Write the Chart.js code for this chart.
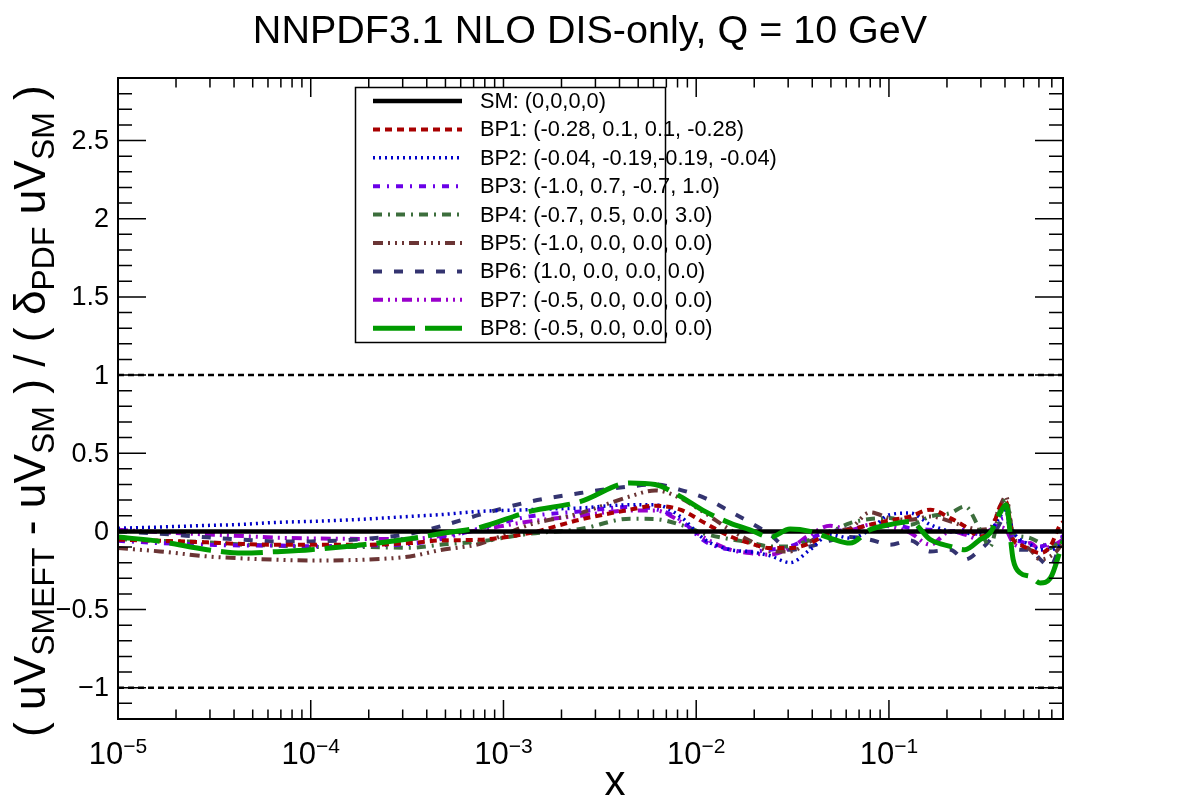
<!DOCTYPE html>
<html><head><meta charset="utf-8">
<script src="https://cdn.jsdelivr.net/npm/chart.js@4.4.1/dist/chart.umd.min.js"></script>
<style>html,body{margin:0;padding:0;background:#fff;}#wrap{width:1182px;height:800px;}</style>
</head><body><div id="wrap"><canvas id="c" width="1182" height="800"></canvas></div>
<script>
// ---------- data ----------
const titleText = "NNPDF3.1 NLO DIS-only, Q = 10 GeV";
const xMin = 1e-5, xMax = 0.8;
const yMin = -1.2, yMax = 2.9;
const xValues = [1.0e-5,1.65e-5,2.9e-5,4.45e-5,6.5e-5,1.0e-4,1.87e-4,3.27e-4,4.69e-4,7.56e-4,
  1.37e-3,2.5e-3,4.54e-3,6.12e-3,8.26e-3,1.11e-2,1.5e-2,1.9e-2,2.42e-2,3.07e-2,
  3.9e-2,4.95e-2,6.29e-2,7.98e-2,0.101,0.129,0.164,0.208,0.248,0.297,
  0.335,0.377,0.405,0.441,0.48,0.541,0.61,0.687,0.774,0.8];
const smX = [1e-5, 0.8];
const smValues = [0, 0];
const refX = [1e-5, 0.8];
const refUpper = [1, 1];
const refLower = [-1, -1];
const bp1 = [-0.053,-0.06,-0.07,-0.081,-0.085,-0.085,-0.085,-0.075,-0.058,-0.053,
  -0.01,0.075,0.139,0.164,0.139,0.053,-0.032,-0.075,-0.107,-0.107,
  -0.075,-0.01,0.01,0.043,0.07,0.096,0.139,0.085,0.032,-0.032,
  -0.01,0.16,0.19,-0.053,-0.085,-0.117,-0.139,-0.096,0.043,0.06];
const bp2 = [0.02,0.028,0.038,0.045,0.057,0.064,0.078,0.096,0.107,0.128,
  0.139,0.15,0.17,0.17,0.096,-0.053,-0.117,-0.13,-0.156,-0.2,
  -0.117,-0.02,-0.043,0.01,0.107,0.117,0.043,0,-0.01,-0.02,
  0,0.096,0.139,0,-0.053,-0.085,-0.117,-0.117,-0.085,-0.06];
const bp3 = [-0.06,-0.075,-0.085,-0.09,-0.09,-0.095,-0.09,-0.08,-0.05,0.02,
  0.096,0.128,0.156,0.143,0.075,-0.064,-0.117,-0.13,-0.117,-0.096,
  -0.043,0,0.01,0.043,0.049,0.02,0.01,0,0.01,-0.02,
  0,0.075,0.085,-0.043,-0.064,-0.085,-0.096,-0.075,-0.043,-0.03];
const bp4 = [-0.05,-0.06,-0.07,-0.085,-0.09,-0.1,-0.1,-0.105,-0.085,-0.064,
  -0.015,0.015,0.081,0.079,0.043,-0.015,-0.05,-0.07,-0.096,-0.096,
  -0.053,-0.005,0.053,0.079,0.085,0.043,0.096,0.117,0.16,0.01,
  -0.096,0.139,0.2,-0.01,-0.032,-0.043,-0.075,-0.107,-0.053,-0.04];
const bp5 = [-0.107,-0.128,-0.16,-0.173,-0.181,-0.186,-0.181,-0.16,-0.12,-0.079,
  0.043,0.117,0.224,0.262,0.213,0.117,0.01,-0.06,-0.128,-0.128,
  -0.064,0,0.02,0.122,0.085,0.075,0.096,0.064,0.032,0.01,
  0.02,0.16,0.224,-0.032,-0.075,-0.117,-0.18,-0.16,-0.096,-0.06];
const bp6 = [0,-0.015,-0.038,-0.053,-0.064,-0.064,-0.049,-0.015,0.032,0.107,
  0.19,0.245,0.288,0.3,0.266,0.213,0.128,0.058,-0.02,-0.117,
  -0.096,-0.058,-0.036,-0.053,-0.085,-0.058,-0.128,-0.117,-0.18,-0.117,
  -0.053,0.053,0.128,-0.075,-0.117,-0.117,-0.18,-0.224,-0.096,-0.08];
const bp7 = [0.01,-0.005,-0.02,-0.03,-0.04,-0.045,-0.048,-0.048,-0.03,0.01,
  0.064,0.1,0.134,0.134,0.064,-0.043,-0.117,-0.139,-0.149,-0.107,
  -0.02,0.036,0.01,0.043,0.032,-0.01,-0.085,0,-0.02,-0.053,
  0.01,0.028,0.01,-0.075,-0.096,-0.075,-0.117,-0.096,-0.064,-0.05];
const bp8 = [-0.036,-0.064,-0.117,-0.139,-0.13,-0.117,-0.085,-0.047,-0.015,0.026,
  0.128,0.19,0.31,0.3,0.224,0.128,0.053,0.01,-0.036,0.015,
  0,-0.043,-0.075,0.01,0.043,0.064,-0.053,-0.096,-0.117,-0.053,
  -0.01,0.117,0.17,-0.18,-0.266,-0.288,-0.33,-0.3,-0.12,-0.06];
const legendLabels = ["SM: (0,0,0,0)","BP1: (-0.28, 0.1, 0.1, -0.28)","BP2: (-0.04, -0.19,-0.19, -0.04)",
  "BP3: (-1.0, 0.7, -0.7, 1.0)","BP4: (-0.7, 0.5, 0.0, 3.0)","BP5: (-1.0, 0.0, 0.0, 0.0)",
  "BP6: (1.0, 0.0, 0.0, 0.0)","BP7: (-0.5, 0.0, 0.0, 0.0)","BP8: (-0.5, 0.0, 0.0, 0.0)"];
const yTickValues = [-1,-0.5,0,0.5,1,1.5,2,2.5];
const yTickLabels = ["\u22121","\u22120.5","0","0.5","1","1.5","2","2.5"];
const xTickExponents = [-5,-4,-3,-2,-1];
const xTitle = "x";
const yTitleParts = [["( uV",0],["SMEFT",1],[" - uV",0],["SM",1],[" ) / ( \u03b4",0],["PDF",1],[" uV",0],["SM",1],[" )",0]];

// ---------- styles ----------
const FONT = '"Liberation Sans", Arial, Helvetica, sans-serif';
const styles = [
  {c:'#000000', d:[], w:4.5},
  {c:'#a80000', d:[7,5], w:4},
  {c:'#0000c8', d:[2,4], w:3.5},
  {c:'#6a00e8', d:[7,7,2,7], w:4},
  {c:'#3c6e3c', d:[9,6,2,6], w:4},
  {c:'#6b3535', d:[10,5,2,5,2,5,2,5], w:4},
  {c:'#343470', d:[9,12], w:4},
  {c:'#9a00cc', d:[10,5,2,5,2,5], w:4},
  {c:'#009a00', d:[42,10], w:5}
];
const seriesVals = [null,bp1,bp2,bp3,bp4,bp5,bp6,bp7,bp8];
const pts = (xs, ys) => xs.map((x,i)=>({x:x, y:ys[i]}));

const datasets = [];
datasets.push({label:'ref+', data:pts(refX,refUpper), borderColor:'#000', borderWidth:2.5, borderDash:[6,4], order:5});
datasets.push({label:'ref-', data:pts(refX,refLower), borderColor:'#000', borderWidth:2.5, borderDash:[6,4], order:5});
datasets.push({label:legendLabels[0], data:pts(smX,smValues), borderColor:styles[0].c, borderWidth:styles[0].w, borderDash:[], order:1});
for(let i=1;i<=8;i++){
  datasets.push({label:legendLabels[i], data:pts(xValues,seriesVals[i]), borderColor:styles[i].c,
    borderWidth:styles[i].w, borderDash:styles[i].d, order:(i===8?0:2),
    cubicInterpolationMode:'monotone'});
}

const decor = {
  id:'decor',
  afterDraw(chart){
    const ctx=chart.ctx, a=chart.chartArea, xs=chart.scales.x, ys=chart.scales.y;
    ctx.save();
    // title
    ctx.fillStyle='#000';
    ctx.font = '39.5px '+FONT; ctx.textAlign='center'; ctx.textBaseline='alphabetic';
    ctx.fillText(titleText, 590, 43);
    // frame
    ctx.strokeStyle='#000'; ctx.lineWidth=2; ctx.setLineDash([]);
    ctx.strokeRect(a.left, a.top, a.right-a.left, a.bottom-a.top);
    ctx.lineWidth=1.5;
    ctx.beginPath();
    for(let e=-5;e<=0;e++){
      for(let m=1;m<=9;m++){
        const v=m*Math.pow(10,e);
        if(v<xMin*0.999||v>xMax*1.001) continue;
        const px=xs.getPixelForValue(v);
        const L=(m===1)?19:9.5;
        ctx.moveTo(px,a.bottom); ctx.lineTo(px,a.bottom-L);
        ctx.moveTo(px,a.top); ctx.lineTo(px,a.top+L);
      }
    }
    for(let i=-12;i<=29;i++){
      const py=ys.getPixelForValue(i/10);
      const L=(i%5===0)?28:14;
      ctx.moveTo(a.left,py); ctx.lineTo(a.left+L,py);
      ctx.moveTo(a.right,py); ctx.lineTo(a.right-L,py);
    }
    ctx.stroke();
    // y tick labels
    ctx.font='27px '+FONT; ctx.textAlign='right'; ctx.textBaseline='middle';
    yTickValues.forEach((v,i)=>{ ctx.fillText(yTickLabels[i], a.left-9, ys.getPixelForValue(v)+1); });
    // x tick labels
    ctx.textBaseline='alphabetic'; ctx.textAlign='left';
    xTickExponents.forEach(e=>{
      const px=xs.getPixelForValue(Math.pow(10,e));
      ctx.font='31px '+FONT; const w1=ctx.measureText('10').width;
      const sup='\u2212'+Math.abs(e);
      ctx.font='21px '+FONT; const w2=ctx.measureText(sup).width;
      const x0=px-(w1+w2)/2;
      ctx.font='31px '+FONT; ctx.fillText('10', x0, 764);
      ctx.font='21px '+FONT; ctx.fillText(sup, x0+w1, 753);
    });
    // x title
    ctx.font='42px '+FONT; ctx.textAlign='center';
    ctx.fillText(xTitle, 615, 795);
    // y title (rotated)
    let base=40, subR=0.72;
    const measure=(s)=>{ let t=0; yTitleParts.forEach(p=>{ ctx.font=(p[1]?s*subR:s)+'px '+FONT; t+=ctx.measureText(p[0]).width; }); return t; };
    let total=measure(base);
    base = base*652/total;
    ctx.save();
    ctx.translate(45, 737); ctx.rotate(-Math.PI/2);
    ctx.textAlign='left'; let cx=0;
    yTitleParts.forEach(p=>{
      ctx.font=(p[1]?base*subR:base)+'px '+FONT;
      ctx.fillText(p[0], cx, p[1]?9:0);
      cx+=ctx.measureText(p[0]).width;
    });
    ctx.restore();
    // legend
    const L={x:355.5,y:87.5,w:310,h:255};
    ctx.fillStyle='#fff'; ctx.fillRect(L.x,L.y,L.w,L.h);
    ctx.strokeStyle='#000'; ctx.lineWidth=1.5; ctx.strokeRect(L.x,L.y,L.w,L.h);
    ctx.font='21.8px '+FONT; ctx.textAlign='left'; ctx.textBaseline='middle';
    for(let i=0;i<9;i++){
      const ry=101+i*28.4;
      ctx.strokeStyle=styles[i].c; ctx.lineWidth=styles[i].w; ctx.setLineDash(styles[i].d);
      ctx.beginPath(); ctx.moveTo(373,ry); ctx.lineTo(462,ry); ctx.stroke();
      ctx.setLineDash([]);
      ctx.fillStyle='#000'; ctx.fillText(legendLabels[i], 480, ry+1);
    }
    ctx.restore();
  }
};

new Chart(document.getElementById('c'), {
  type:'line',
  data:{datasets:datasets},
  options:{
    responsive:false, animation:false, devicePixelRatio:1,
    layout:{padding:{left:118,right:119,top:78,bottom:81}},
    elements:{point:{radius:0}, line:{tension:0, fill:false}},
    plugins:{legend:{display:false}, tooltip:{enabled:false}, title:{display:false}},
    scales:{
      x:{type:'logarithmic', min:xMin, max:xMax, display:false},
      y:{type:'linear', min:yMin, max:yMax, display:false}
    }
  },
  plugins:[decor]
});
</script>
</body></html>
